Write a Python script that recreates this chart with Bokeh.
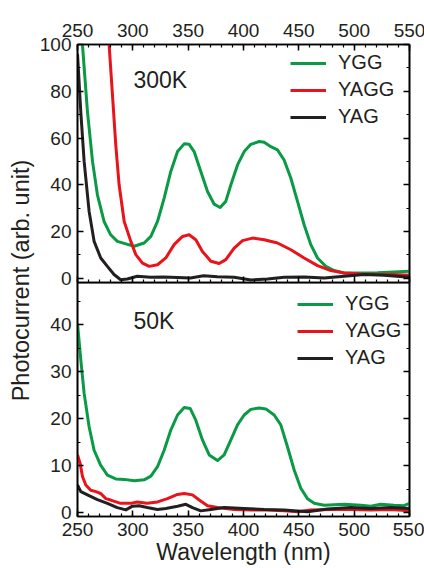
import math
from bokeh.plotting import figure
from bokeh.layouts import row, column
from bokeh.models import (Range1d, LinearAxis, SingleIntervalTicker, Legend, LegendItem,
                          Label, CustomJSTickFormatter)
from bokeh.embed import file_html
from bokeh.resources import INLINE

# ---------------- data ----------------
# 300 K panel
ygg300_x = [254.5, 259, 263.6, 268, 274, 280, 286, 293.7, 301.2, 310.2, 316.3, 322.3, 328.3,
            334.3, 340.4, 346.4, 350.9, 355.4, 361.4, 367.5, 373.5, 378.9, 384, 388.6, 394.6,
            400.6, 406.6, 414.2, 418.7, 424.7, 430.7, 436.7, 442.8, 448.8, 454.8, 460.8,
            466.9, 474.4, 481.9, 491, 506, 521, 536, 550]
ygg300_y = [99.7, 71.3, 49.9, 35.7, 24.3, 18.6, 15.8, 14.7, 13.7, 15.1, 17.9, 24.3, 34.3,
            45.7, 54.2, 57.5, 57.3, 54.2, 45.7, 37.1, 31.7, 30.3, 32.9, 40.0, 48.5,
            54.2, 57.3, 58.5, 58.2, 56.3, 54.9, 50.6, 42.8, 32.9, 22.9, 14.4,
            8.7, 5.1, 3.3, 2.3, 2.3, 2.4, 2.7, 3.0]

yagg300_x = [278.6, 281.6, 284.6, 287.6, 292.2, 298.2, 302.7, 308.7, 314.8, 322.3, 329.8,
             337.3, 344.9, 350.9, 356.9, 362.9, 370.5, 378, 384, 391.6, 399.1, 408.1, 418.7,
             430.7, 442.8, 454.8, 466.9, 478.9, 491, 506, 521, 536, 550]
yagg300_y = [99.7, 78.4, 57.0, 40.0, 24.3, 15.8, 10.1, 6.5, 5.1, 5.8, 8.7,
             14.4, 17.9, 18.6, 16.5, 11.5, 7.3, 6.3, 8.0, 12.9, 16.1, 17.2, 16.5,
             15.1, 12.2, 8.7, 5.4, 3.3, 2.3, 1.8, 1.6, 1.6, 1.3]

yag300_x = [250, 253, 256, 260.5, 265, 271, 277, 283, 289, 295, 304, 316, 328, 340, 352, 364,
            376.5, 391.6, 406.6, 421.7, 436.7, 454.8, 472.9, 491, 509, 527, 550]
yag300_y = [96, 71, 50, 28.6, 15.8, 8.7, 5.1, 1.6, -0.6, -0.3, 0.9, 0.4, 0.6, 0.3, 0.1, 1.1,
            0.7, 0.4, -0.7, -0.3, 0.4, 0.6, 0.1, 0.9, 1.6, 1.3, 0.4]

# 50 K panel
ygg50_x = [250, 253, 256, 260.5, 265, 271, 277, 284.6, 292.2, 301.2, 310.2, 316.3, 322.3,
           328.3, 334.3, 340.4, 346.4, 351.8, 356.9, 362.9, 369, 376.5, 382.5, 388.6, 394.6,
           400.6, 406.6, 414.2, 420.2, 427.7, 433.7, 439.8, 445.8, 451.8, 457.8, 463.9,
           472.9, 491, 506, 515, 524, 536, 545, 550]
ygg50_y = [40.3, 32.5, 25.4, 18.3, 13.3, 10.1, 8.0, 7.2, 7.1, 6.8, 7.0, 7.8, 9.8,
           13.3, 17.6, 20.8, 22.4, 22.2, 19.7, 15.5, 12.3, 11.1, 12.3, 15.5, 18.7,
           20.8, 22.0, 22.3, 22.1, 20.8, 18.7, 14.0, 9.1, 5.2, 3.0, 2.0,
           1.6, 1.8, 1.6, 1.4, 1.8, 1.6, 1.5, 2.0]

yagg50_x = [250, 252.4, 254.5, 257.5, 262, 266.6, 271, 275.6, 280, 289, 298, 304, 313, 322.3,
            331.3, 340.4, 346.4, 353.9, 360, 367.5, 376.5, 391.6, 406.6, 421.7, 436.7, 448.8,
            460.8, 478.9, 497, 515, 533, 550]
yagg50_y = [12.3, 10.5, 7.7, 5.9, 4.8, 4.5, 4.1, 3.0, 2.7, 2.0, 2.0, 2.3, 2.0, 2.3,
            3.0, 3.9, 4.1, 3.8, 2.7, 1.5, 1.1, 0.7, 0.6, 0.6, 0.4, 0.2,
            0.6, 0.7, 0.7, 0.6, 0.7, 0.4]

yag50_x = [250, 253, 259, 268, 277, 286, 293.7, 299.7, 305.7, 313, 322.3, 329.8, 340.4, 347.9,
           353.9, 361.4, 370.5, 382.5, 400.6, 418.7, 436.7, 457.8, 475.9, 497, 515, 533, 550]
yag50_y = [5.9, 4.5, 3.8, 2.8, 2.0, 1.1, 0.6, 1.4, 1.5, 1.1, 0.7, 0.9, 1.4, 1.8,
           1.1, 0.4, 0.7, 1.1, 0.9, 0.7, 0.6, 0.2, 0.8, 1.1, 0.9, 1.1, 0.9]

series_names = ["YGG", "YAGG", "YAG"]

GREEN = "#0a9a45"
RED = "#e8131b"
BLACK = "#231f20"
TXT = "#231f20"
FONT = "Liberation Sans"

FRAME_W = 332
LEFT_B = 39
RIGHT_B = 17
OVERLAP = 9


def make_axis(labels, interval, minor):
    ax = LinearAxis()
    ax.ticker = SingleIntervalTicker(interval=interval, num_minor_ticks=minor)
    ax.major_tick_in = 6
    ax.major_tick_out = 0
    ax.minor_tick_in = 3
    ax.minor_tick_out = 0
    ax.axis_line_width = 1.6
    ax.axis_line_color = "black"
    ax.major_tick_line_width = 1.5
    ax.minor_tick_line_width = 1.2
    ax.major_tick_line_color = "black"
    ax.minor_tick_line_color = "black"
    ax.major_label_text_font = FONT
    ax.major_label_text_font_size = "19px"
    ax.major_label_text_color = TXT
    if not labels:
        ax.formatter = CustomJSTickFormatter(code="return ''")
        ax.major_label_standoff = 0
    return ax


def make_panel(ymin, ymax, yint, xs, ys, top, frame_h, b_top, b_bottom, kelvin, kel_y,
               leg_loc):
    p = figure(frame_width=FRAME_W, frame_height=frame_h,
               x_range=Range1d(250, 550), y_range=Range1d(ymin, ymax),
               output_backend="svg", toolbar_location=None,
               x_axis_location=None, y_axis_location=None,
               min_border_left=LEFT_B, min_border_right=RIGHT_B,
               min_border_top=b_top, min_border_bottom=b_bottom)
    p.grid.visible = False
    p.outline_line_color = "black"
    p.outline_line_width = 1.6

    xlab = make_axis(True, 50, 5)
    xlab.major_label_standoff = 8 if top else 6
    p.add_layout(xlab, "above" if top else "below")
    if top:
        p.add_layout(make_axis(False, 50, 5), "below")
    yl = make_axis(True, yint, 2)
    yl.major_label_standoff = 6
    p.add_layout(yl, "left")
    p.add_layout(make_axis(False, yint, 2), "right")

    colors = [GREEN, RED, BLACK]
    renderers = []
    for x, y, c in zip(xs, ys, colors):
        r = p.line(x, y, line_color=c, line_width=3, line_join="round")
        renderers.append(r)

    legend = Legend(items=[LegendItem(label=n, renderers=[r]) for n, r in zip(series_names, renderers)],
                    location=leg_loc, orientation="vertical",
                    border_line_color=None, background_fill_alpha=0,
                    padding=0, margin=0, spacing=4, glyph_width=36, glyph_height=20,
                    label_height=20, label_standoff=12,
                    label_text_font=FONT, label_text_font_size="20px",
                    label_text_color=TXT)
    p.add_layout(legend)

    p.add_layout(Label(x=300.6, y=kel_y, text=kelvin, text_font=FONT, text_font_size="23px",
                       text_color=TXT, text_align="left", text_baseline="middle"))
    return p, xlab


top, _ = make_panel(-1.8, 100, 20, [ygg300_x, yagg300_x, yag300_x],
                    [ygg300_y, yagg300_y, yag300_y], True, 238, 44, OVERLAP,
                    "300K", 84.8, (213, 154))
bot, bx = make_panel(-0.8, 49, 10, [ygg50_x, yagg50_x, yag50_x],
                     [ygg50_y, yagg50_y, yag50_y], False, 234, 0, 52,
                     "50K", 40.8, (220, 147))
bot.background_fill_alpha = 0
bot.border_fill_alpha = 0
bot.margin = (-OVERLAP, 0, 0, 0)
bx.axis_label = "Wavelength (nm)"
bx.axis_label_text_font = FONT
bx.axis_label_text_font_size = "23px"
bx.axis_label_text_font_style = "normal"
bx.axis_label_text_color = TXT
bx.axis_label_standoff = 0

TOTAL_H = 568
lab = figure(width=36, height=TOTAL_H, x_range=Range1d(0, 36), y_range=Range1d(0, TOTAL_H),
             output_backend="svg", toolbar_location=None, min_border=0)
lab.axis.visible = False
lab.grid.visible = False
lab.outline_line_color = None
lab.add_layout(Label(x=20, y=TOTAL_H - 280, text="Photocurrent (arb. unit)", angle=math.pi / 2,
                     text_font=FONT, text_font_size="23.5px", text_color=TXT,
                     text_align="center", text_baseline="middle"))

layout = row(lab, column(top, bot, spacing=0), spacing=0)

open("out.html", "w").write(file_html(layout, INLINE))
